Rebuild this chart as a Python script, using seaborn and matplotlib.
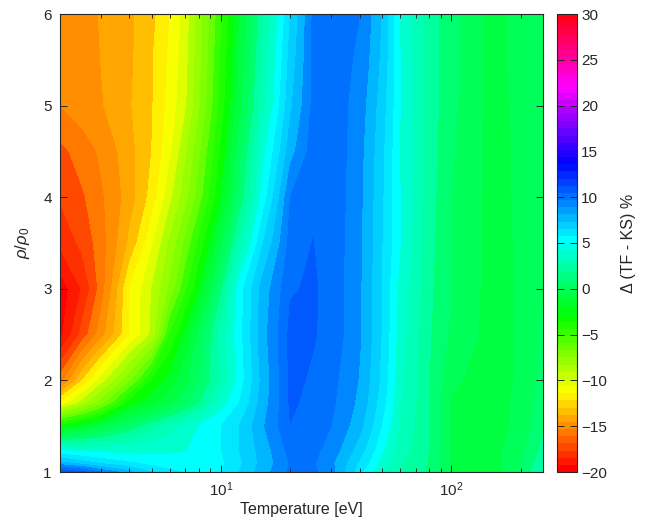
import numpy as np
import matplotlib
matplotlib.use("Agg")
import matplotlib.pyplot as plt
from matplotlib.colors import ListedColormap, Normalize
from matplotlib.cm import ScalarMappable
import seaborn as sns

# Temperature grid [eV] and density ratio grid rho/rho0
temperature_ev = [2, 2.5, 3, 4, 5, 6, 7, 8, 10, 12, 15, 20, 25, 30, 40, 50, 60, 80, 100, 150, 200, 250]
density_ratio = [1.0, 1.1, 1.25, 1.5, 1.75, 2.0, 2.5, 3.0, 3.5, 4.0, 4.5, 5.0, 5.5, 6.0]

# Relative difference Delta(TF - KS) in %, one row per density ratio
delta_pct = [
    [11.8, 11.2, 9.9, 8.3, 7.0, 6.3, 5.9, 5.7, 6.0, 7.0, 8.5, 10.2, 10.2, 9.4, 6.2, 4.0, 2.9, 1.8, -0.1, -0.4, 1.0, 3.2],
    [8.3, 7.4, 6.8, 6.1, 5.6, 5.3, 5.2, 5.2, 5.8, 6.8, 8.3, 10.1, 10.1, 9.2, 6.8, 4.6, 3.1, 1.9, -0.1, -0.4, 0.9, 2.8],
    [4.7, 4.5, 4.4, 4.4, 4.6, 4.8, 4.95, 5.2, 6.0, 7.0, 8.4, 10.4, 10.3, 9.6, 7.5, 5.2, 3.5, 2.0, -0.1, -0.4, 0.7, 2.3],
    [-2.7, -1.5, -0.5, 1.2, 2.6, 3.6, 4.4, 5.0, 6.0, 7.0, 8.8, 10.97, 10.6, 10.0, 8.3, 5.9, 3.8, 2.0, -0.1, -0.5, 0.4, 1.8],
    [-10.8, -8.5, -6.5, -2.5, -1.3, -0.3, 0.8, 1.9, 4.5, 6.0, 8.4, 11.15, 10.7, 10.2, 8.7, 6.4, 4.0, 2.0, -0.1, -0.5, 0.3, 1.5],
    [-15.5, -12.0, -9.6, -6.3, -3.0, -1.6, -0.3, 0.9, 3.3, 5.4, 8.2, 11.25, 10.85, 10.3, 8.9, 6.7, 4.2, 2.0, 0.15, -0.5, 0.2, 1.3],
    [-19.3, -16.6, -14.5, -11.0, -8.8, -4.0, -1.8, 0.3, 3.4, 5.6, 8.5, 11.3, 11.1, 10.6, 9.1, 6.9, 4.4, 2.1, 0.8, -0.5, 0.2, 1.1],
    [-19.6, -17.9, -15.6, -11.0, -9.0, -6.8, -4.3, -2.2, 1.8, 5.5, 8.3, 10.9, 11.15, 10.6, 9.1, 6.9, 4.6, 2.2, 1.0, -0.5, 0.2, 0.9],
    [-17.8, -16.7, -15.5, -12.8, -10.2, -7.8, -5.8, -3.8, -0.2, 3.2, 6.8, 10.4, 11.02, 10.6, 9.2, 7.0, 5.0, 2.3, 1.0, -0.5, 0.2, 0.8],
    [-16.9, -16.15, -15.2, -13.5, -11.6, -9.3, -7.4, -5.6, -2.0, 1.2, 5.2, 10.0, 10.8, 10.7, 9.2, 7.1, 5.0, 2.4, 1.0, -0.4, 0.2, 0.8],
    [-16.3, -15.5, -14.85, -13.35, -12.0, -10.2, -8.2, -6.3, -2.8, 0.6, 4.5, 8.6, 10.5, 10.7, 9.3, 7.2, 4.9, 2.5, 1.1, -0.4, 0.2, 0.7],
    [-15.0, -14.5, -14.1, -13.1, -12.1, -10.6, -9.2, -7.2, -3.6, -0.5, 3.4, 7.8, 10.2, 10.6, 9.5, 7.4, 5.0, 2.5, 1.2, -0.4, 0.3, 0.7],
    [-14.7, -14.35, -14.0, -13.2, -12.1, -10.8, -9.4, -7.4, -3.9, -0.8, 3.0, 7.4, 10.1, 10.5, 9.8, 7.7, 5.0, 2.5, 1.3, -0.4, 0.4, 0.7],
    [-14.6, -14.3, -13.95, -13.2, -12.3, -11.0, -9.6, -7.6, -4.2, -1.1, 2.6, 7.0, 10.1, 10.5, 10.0, 7.9, 4.8, 2.5, 1.3, -0.4, 0.4, 0.7],
]

color_limits = (-20, 30)
colorbar_ticks = [-20, -15, -10, -5, 0, 5, 10, 15, 20, 25, 30]
density_ticks = [1, 2, 3, 4, 5, 6]

sns.set_theme(style="white")
plt.rcParams["font.family"] = ["Liberation Sans", "DejaVu Sans"]
plt.rcParams["mathtext.fontset"] = "custom"
plt.rcParams["mathtext.rm"] = "Liberation Sans"
plt.rcParams["mathtext.it"] = "Liberation Sans:italic"
plt.rcParams["axes.axisbelow"] = False

ink = (0.15, 0.15, 0.15)

# 64-entry full-saturation hue wheel
cmap = ListedColormap(sns.hls_palette(64, h=0, l=0.5, s=1))
norm = Normalize(*color_limits)

fig = plt.figure(figsize=(6.49, 5.29), dpi=100)
ax = fig.add_axes([60 / 649, 57 / 529, 483 / 649, 458 / 529])
cax = fig.add_axes([557 / 649, 57 / 529, 20 / 649, 458 / 529])

T, R = np.meshgrid(temperature_ev, density_ratio)
Z = np.array(delta_pct)
levels = np.arange(color_limits[0], color_limits[1] + 1, 1)
# each filled band takes the colour of its lower level
band_colors = [cmap(norm(lv)) for lv in levels[:-1]]
cs = ax.contourf(T, R, Z, levels=levels, colors=band_colors, antialiased=False)

ax.set_xscale("log")
ax.set_xlim(temperature_ev[0], temperature_ev[-1])
ax.set_ylim(density_ratio[0], density_ratio[-1])
ax.set_yticks(density_ticks)
ax.set_axisbelow(False)
ax.tick_params(which="both", direction="in", bottom=True, left=True, top=True, right=True,
               colors=ink, labelsize=11, width=0.7)
ax.tick_params(which="major", length=5, pad=6)
ax.tick_params(which="minor", length=3)
for sp in ax.spines.values():
    sp.set_color(ink)
    sp.set_linewidth(0.8)
ax.set_xlabel("Temperature [eV]", fontsize=11.5, color=ink, labelpad=2)
ax.set_ylabel(r"$\rho/\rho_0$", fontsize=12, color=ink, labelpad=8)

cb = fig.colorbar(ScalarMappable(norm=norm, cmap=cmap), cax=cax, ticks=colorbar_ticks)
cb.outline.set_edgecolor(ink)
cb.outline.set_linewidth(0.8)
cax.set_axisbelow(False)
cax.tick_params(which="major", direction="in", left=True, right=True, length=5, width=0.7,
                colors=ink, labelsize=11, pad=3)
cax.tick_params(which="minor", left=False, right=False)
cb.set_label("Δ (TF - KS) %", fontsize=11.5, color=ink, labelpad=10)

fig.savefig("out.png", dpi=100)
